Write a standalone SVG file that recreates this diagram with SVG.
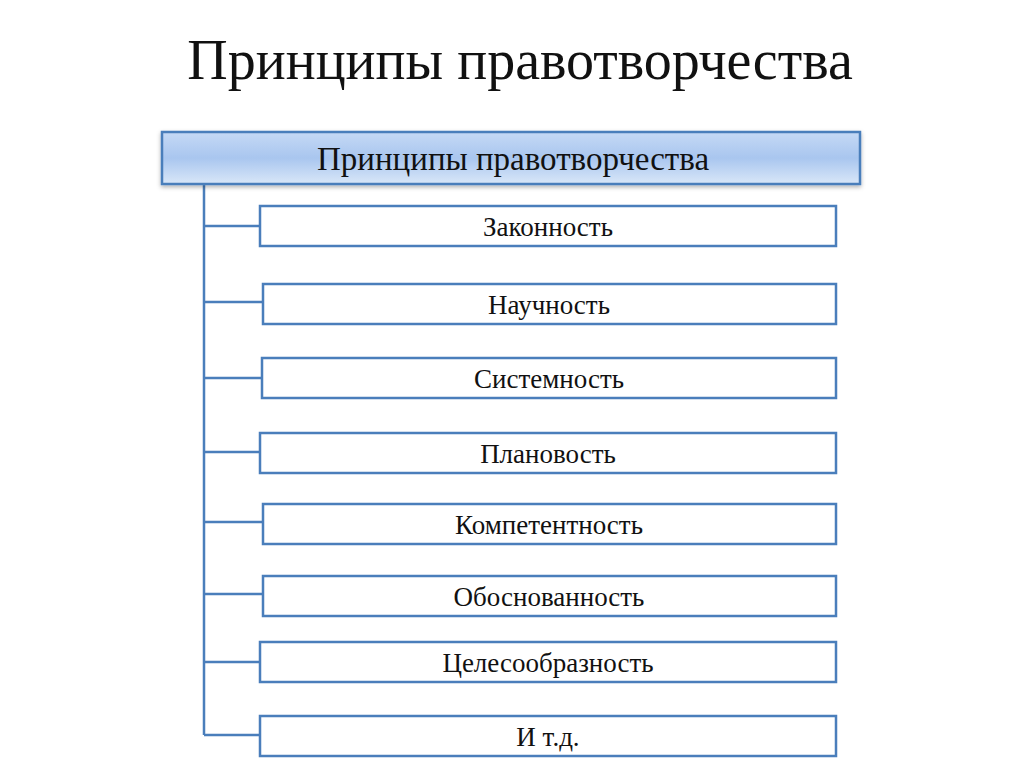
<svg xmlns="http://www.w3.org/2000/svg" width="1024" height="767" viewBox="0 0 1024 767">
<defs>
<linearGradient id="g" x1="0" y1="0" x2="0" y2="1">
<stop offset="0" stop-color="#c5d9f5"/><stop offset="0.5" stop-color="#a9c6ef"/><stop offset="1" stop-color="#d9e7f8"/>
</linearGradient>
<filter id="sh" x="-5%" y="-20%" width="110%" height="150%"><feDropShadow dx="0" dy="2" stdDeviation="2" flood-color="#000" flood-opacity="0.3"/></filter>
</defs>
<style>
.b{fill:#fff;stroke:#4a7ebb;stroke-width:2.5}
.t{font-family:"Liberation Serif",serif;font-size:27px;fill:#111;text-anchor:middle}
.c{stroke:#4a7ebb;stroke-width:2.5;fill:none}
</style>
<rect width="1024" height="767" fill="#fff"/>
<text x="520" y="79" font-family="Liberation Serif, serif" font-size="56" fill="#111" text-anchor="middle">Принципы правотворчества</text>
<g id="connectors">
<path class="c" d="M204 184V735M204 226H260M204 302H263M204 378H262M204 452H260M204 522H263M204 594H263M204 662H260M204 735H260"/>
</g>
<g id="root"><rect x="162" y="132" width="698" height="52" fill="url(#g)" stroke="#4a7ebb" stroke-width="2.5" filter="url(#sh)"/><text class="t" x="513" y="170" style="font-size:33px">Принципы правотворчества</text></g>
<g id="n1"><rect class="b" x="260" y="206" width="576" height="40"/><text class="t" x="548" y="236">Законность</text></g>
<g id="n2"><rect class="b" x="263" y="284" width="573" height="40"/><text class="t" x="549" y="314">Научность</text></g>
<g id="n3"><rect class="b" x="262" y="358" width="574" height="40"/><text class="t" x="549" y="388">Системность</text></g>
<g id="n4"><rect class="b" x="260" y="433" width="576" height="40"/><text class="t" x="548" y="463">Плановость</text></g>
<g id="n5"><rect class="b" x="263" y="504" width="573" height="40"/><text class="t" x="549" y="534">Компетентность</text></g>
<g id="n6"><rect class="b" x="263" y="576" width="573" height="40"/><text class="t" x="549" y="606">Обоснованность</text></g>
<g id="n7"><rect class="b" x="260" y="642" width="576" height="40"/><text class="t" x="548" y="672">Целесообразность</text></g>
<g id="n8"><rect class="b" x="260" y="716" width="576" height="40"/><text class="t" x="548" y="746">И т.д.</text></g>
</svg>
